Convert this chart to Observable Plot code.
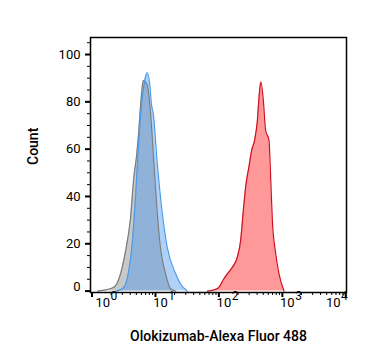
<!DOCTYPE html>
<html><head><meta charset="utf-8">
<script src="https://cdn.jsdelivr.net/npm/d3@7"></script>
<script src="https://cdn.jsdelivr.net/npm/@observablehq/plot@0.6"></script>
<style>body{margin:0;background:#fff;}</style>
</head><body><div id="chart"></div>
<script>
// Isotype control (gray)
const grayX = [1.22, 1.63, 2.21, 2.82, 3.38, 4.05, 4.56, 5.03, 5.47, 5.97, 6.42, 7.43, 8.37, 9.44, 10.67, 12.03, 14.42, 17.29, 20.75];
const grayY = [0, 0.5, 1.6, 7.4, 17, 31, 48, 57, 68, 82, 89, 87, 75, 54, 33, 18, 7.4, 1, 0];
// Second control (blue)
const blueX = [2.35, 2.65, 3.17, 3.80, 4.30, 4.85, 5.28, 5.82, 6.42, 6.98, 7.43, 8.08, 8.68, 9.23, 10.67, 12.80, 15.35, 20.75, 24.88, 31.7];
const blueY = [0, 0.3, 1.6, 8.7, 20, 40, 57, 74, 85, 90.6, 92.3, 88, 78.6, 75, 54, 33, 18.4, 7.4, 3, 0];
// Olokizumab-Alexa Fluor 488 stained (red)
const redX = [65.6, 83.4, 100, 120, 135.6, 162.6, 195, 220, 242.7, 263.8, 297, 328, 365.6, 403.6, 433.5, 459, 501, 545, 615, 654, 695, 784, 884, 1060];
const redY = [0, 0.5, 1.6, 5.2, 7.3, 10, 14.3, 21.4, 34, 44, 52.5, 59.5, 63.8, 72, 83.5, 88.5, 80.7, 68, 63.8, 48, 30, 16, 7.4, 0];

const xDecades = [1, 10, 100, 1000, 10000];
const xExponents = ["0", "1", "2", "3", "4"];
const xMinor = [2,3,4,5,6,7,8,9,20,30,40,50,60,70,80,90,200,300,400,500,600,700,800,900,2000,3000,4000,5000,6000,7000,8000,9000];
const yMajor = [0, 20, 40, 60, 80, 100];
const yMinor = [5, 10, 15, 25, 30, 35, 45, 50, 55, 65, 70, 75, 85, 90, 95, 105];
const xTitle = "Olokizumab-Alexa Fluor 488";
const yTitle = "Count";

const rows = (xs, ys) => xs.map((x, i) => ({x, y: ys[i]}));
const gray = rows(grayX, grayY), blue = rows(blueX, blueY), red = rows(redX, redY);
const expOf = d => xExponents[xDecades.indexOf(d)];
const curve = "monotone-x";

const chart = Plot.plot({
  width: 367, height: 364,
  marginLeft: 90, marginRight: 21, marginTop: 37, marginBottom: 72,
  style: {fontFamily: "Roboto", background: "#fff", color: "#000"},
  x: {type: "log", domain: [Math.pow(10, -0.024), Math.pow(10, 4.011)], label: null},
  y: {domain: [-0.6, 107.2], label: null},
  marks: [
    Plot.areaY(red, {x: "x", y: "y", fill: "#ff9898", curve}),
    Plot.areaY(gray, {x: "x", y: "y", fill: "#c8c8c8", curve}),
    Plot.areaY(blue, {x: "x", y: "y", fill: "rgb(70,148,236)", fillOpacity: 0.43, curve}),
    Plot.line(gray, {x: "x", y: "y", stroke: "#7c7c7c", strokeWidth: 1.2, curve}),
    Plot.line(blue, {x: "x", y: "y", stroke: "#4c9be8", strokeWidth: 1.2, curve}),
    Plot.line(red, {x: "x", y: "y", stroke: "#cc1020", strokeWidth: 1.2, curve}),
    Plot.frame({stroke: "#000", strokeWidth: 1.5}),
    Plot.axisY(yMajor, {tickSize: 5, strokeWidth: 2, tickPadding: 5, fontSize: 13, tickFormat: d => d === 0 ? "" : String(d)}),
    Plot.text([0], {y: d => d, frameAnchor: "left", textAnchor: "end", dx: -10, dy: -4, fontSize: 13, text: d => String(d)}),
    Plot.axisY(yMinor, {tickSize: 3, strokeWidth: 1, tickFormat: () => ""}),
    Plot.axisX(xDecades, {tickSize: 5, strokeWidth: 2, tickFormat: () => ""}),
    Plot.axisX(xMinor, {tickSize: 3, strokeWidth: 1, tickFormat: () => ""}),
    // decade labels 10^k
    Plot.text(xDecades.slice(0, 1), {x: d => d, frameAnchor: "bottom", textAnchor: "start", dx: 3.5, dy: 14.5, fontSize: 13, text: () => "10"}),
    Plot.text(xDecades.slice(0, 1), {x: d => d, frameAnchor: "bottom", textAnchor: "start", dx: 18.6, dy: 7.5, fontSize: 12, text: expOf}),
    Plot.text(xDecades.slice(1, 4), {x: d => d, frameAnchor: "bottom", textAnchor: "start", dx: -2.3, dy: 14.5, fontSize: 13, text: () => "10"}),
    Plot.text(xDecades.slice(1, 4), {x: d => d, frameAnchor: "bottom", textAnchor: "start", dx: 12.8, dy: 7.5, fontSize: 12, text: expOf}),
    Plot.text(xDecades.slice(4), {x: d => d, frameAnchor: "bottom", textAnchor: "end", dx: -5.2, dy: 14.5, fontSize: 13, text: () => "10"}),
    Plot.text(xDecades.slice(4), {x: d => d, frameAnchor: "bottom", textAnchor: "end", dx: 2, dy: 7.5, fontSize: 12, text: expOf}),
    // axis titles
    Plot.text([xTitle], {frameAnchor: "bottom", dy: 48, fontSize: 14, fontWeight: 500, text: d => d}),
    Plot.text([yTitle], {frameAnchor: "left", dx: -57, rotate: -90, fontSize: 14, fontWeight: 500, text: d => d})
  ]
});
document.getElementById("chart").appendChild(chart);
</script>
</body></html>
